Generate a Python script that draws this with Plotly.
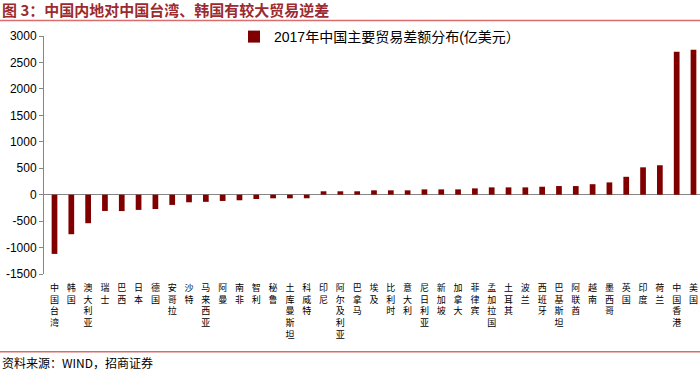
import plotly.graph_objects as go

categories = ["中国台湾", "韩国", "澳大利亚", "瑞士", "巴西", "日本", "德国", "安哥拉", "沙特", "马来西亚",
              "阿曼", "南非", "智利", "秘鲁", "土库曼斯坦", "科威特", "印尼", "阿尔及利亚", "巴拿马", "埃及",
              "比利时", "意大利", "尼日利亚", "新加坡", "加拿大", "菲律宾", "孟加拉国", "土耳其", "波兰", "西班牙",
              "巴基斯坦", "阿联酋", "越南", "墨西哥", "英国", "印度", "荷兰", "中国香港", "美国"]
values = [-1120, -748, -540, -308, -310, -288, -272, -194, -144, -136,
          -119, -106, -82, -69, -69, -68, 64, 64, 64, 82,
          82, 82, 100, 100, 100, 119, 138, 138, 138, 150,
          163, 163, 198, 232, 338, 517, 556, 2701, 2740]
ytick_vals = [-1500, -1000, -500, 0, 500, 1000, 1500, 2000, 2500, 3000]
ytick_text = ["-1500", "-1000", "-500", "0", "500", "1000", "1500", "2000", "2500", "3000"]
series_name = "2017年中国主要贸易差额分布(亿美元）"
title_text = "图 3：中国内地对中国台湾、韩国有较大贸易逆差"
source_text = "资料来源：WIND，招商证券"

W, H = 700, 371
L, R, T, B = 44, 0, 36, 96.5
pw, ph = W - L - R, H - T - B

def px(x):
    return (x - L) / pw

def py(y):
    return (H - B - y) / ph

tick_labels = ["<br>".join(list(c)) for c in categories]

fig = go.Figure()
fig.add_trace(go.Bar(
    x=list(range(len(categories))), y=values, name=series_name,
    marker=dict(color="#800000", line=dict(width=0)),
    showlegend=True,
))

fig.update_layout(
    width=W, height=H,
    margin=dict(l=L, r=R, t=T, b=B, pad=0),
    paper_bgcolor="white", plot_bgcolor="white",
    bargap=0.66,
    font=dict(family="Liberation Sans, Arial, Noto Sans CJK SC", color="#000000"),
    xaxis=dict(
        range=[-0.624, 38.387],
        tickmode="array", tickvals=list(range(len(categories))), ticktext=tick_labels,
        tickangle=0,
        tickfont=dict(size=9, family="Noto Sans CJK SC", color="#000000"),
        showgrid=False, showline=False, zeroline=False, ticks="",
        ticklabelstandoff=7,
    ),
    yaxis=dict(
        range=[-1500, 3000],
        tickmode="array", tickvals=ytick_vals, ticktext=ytick_text,
        tickfont=dict(size=12, family="Liberation Sans, Arial", color="#000000"),
        showgrid=False, showline=True, linecolor="#868686", linewidth=1,
        ticks="outside", ticklen=4, tickcolor="#868686",
        zeroline=True, zerolinecolor="#868686", zerolinewidth=1.2,
    ),
    legend=dict(
        x=px(234), y=py(37), xanchor="left", yanchor="middle",
        bgcolor="rgba(0,0,0,0)", itemwidth=30,
        font=dict(size=14, family="Liberation Sans, Arial, Noto Sans CJK SC", color="#000000"),
    ),
    shapes=[
        dict(type="line", xref="paper", yref="paper", x0=px(0), x1=px(W), y0=py(20.5), y1=py(20.5),
             line=dict(color="#D96C6C", width=1.5)),
        dict(type="line", xref="paper", yref="paper", x0=px(0), x1=px(W), y0=py(352.5), y1=py(352.5),
             line=dict(color="#D96C6C", width=1.5)),
    ],
    annotations=[
        dict(text="<b>" + title_text + "</b>", xref="paper", yref="paper", x=px(0), y=py(9.5),
             xanchor="left", yanchor="middle", showarrow=False,
             font=dict(size=15, family="Noto Sans CJK SC", color="#9C2A2E")),
        dict(text=source_text, xref="paper", yref="paper", x=px(0), y=py(363),
             xanchor="left", yanchor="middle", showarrow=False,
             font=dict(size=12, family="Noto Sans CJK SC", color="#000000")),
    ],
)

fig.write_html("out.html",
               config={"displayModeBar": False},
               post_script="document.body.style.margin='0';document.body.style.padding='0';"
                           "document.documentElement.style.overflow='hidden';")
